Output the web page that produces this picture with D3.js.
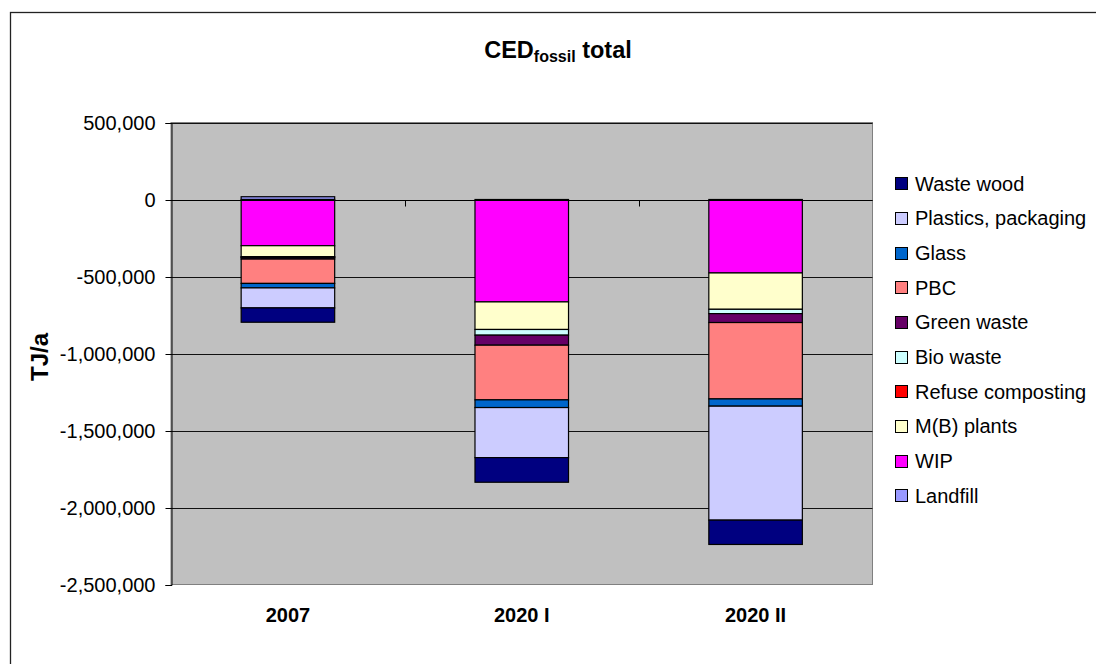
<!DOCTYPE html>
<html>
<head>
<meta charset="utf-8">
<script src="https://cdn.jsdelivr.net/npm/d3@7"></script>
<style>
html,body{margin:0;padding:0;background:#fff;}
svg{display:block;font-family:"Liberation Sans",Arial,sans-serif;}
</style>
</head>
<body>
<svg id="chart" width="1096" height="664"></svg>
<script>
const categories = ["2007", "2020 I", "2020 II"];
// series in stacking order (Excel series order)
const seriesNames = ["Landfill", "WIP", "M(B) plants", "Refuse composting", "Bio waste", "Green waste", "PBC", "Glass", "Plastics, packaging", "Waste wood"];
const seriesColors = ["#9999FF", "#FF00FF", "#FFFFCC", "#FF0000", "#CCFFFF", "#660066", "#FF8080", "#0066CC", "#CCCCFF", "#000080"];
const landfill     = [18000, 0, 0];
const wip          = [-300000, -665000, -477000];
const mbPlants     = [-71000, -179000, -236000];
const refuseComp   = [-3000, 0, 0];
const bioWaste     = [-4000, -37000, -28000];
const greenWaste   = [-9000, -65000, -58000];
const pbc          = [-158000, -355000, -496000];
const glass        = [-29000, -50000, -47000];
const plastics     = [-130000, -325000, -740000];
const wasteWood    = [-93000, -160000, -158000];
const yTicks = [500000, 0, -500000, -1000000, -1500000, -2000000, -2500000];

const seriesValues = [landfill, wip, mbPlants, refuseComp, bioWaste, greenWaste, pbc, glass, plastics, wasteWood];

(function () {
const svg = d3.select("#chart");

// outer chart border
svg.append("rect").attr("x", 10.5).attr("y", 12.5).attr("width", 1100).attr("height", 700)
  .attr("fill", "#fff").attr("stroke", "#222").attr("stroke-width", 1.3);

const pLeft = 171, pRight = 872.5, pTop = 122.5, pBottom = 584.5;

const x = d3.scaleBand().domain(categories).range([pLeft, pRight]).padding(0);
const y = d3.scaleLinear().domain([-2500000, 500000]).range([pBottom, pTop]);

// plot area
svg.append("rect").attr("x", pLeft).attr("y", pTop).attr("width", pRight - pLeft).attr("height", pBottom - pTop)
  .attr("fill", "#C0C0C0").attr("stroke", "#808080").attr("stroke-width", 1);

// gridlines
svg.append("g").selectAll("line").data(yTicks.filter(d => d !== -2500000)).join("line")
  .attr("x1", pLeft).attr("x2", pRight)
  .attr("y1", d => Math.round(y(d)) + 0.5).attr("y2", d => Math.round(y(d)) + 0.5)
  .attr("stroke", "#111").attr("stroke-width", 1);

// y axis
const fmt = d3.format(",");
const yAxis = d3.axisLeft(y).tickValues(yTicks).tickSize(6).tickPadding(10).tickFormat(d => fmt(d).replace("−", "-"));
const yg = svg.append("g").attr("transform", `translate(${pLeft + 0.5},0.5)`).call(yAxis);
yg.select(".domain").attr("stroke", "#000");
yg.selectAll(".tick line").attr("stroke", "#000");
yg.selectAll("text").attr("font-size", 20).attr("fill", "#000").attr("font-family", "Liberation Sans, Arial, sans-serif");

// stacked bars
const data = categories.map((c, i) => {
  const o = { cat: c };
  seriesNames.forEach((s, j) => { o[s] = seriesValues[j][i]; });
  return o;
});
const stack = d3.stack().keys(seriesNames).offset(d3.stackOffsetDiverging);
const stacked = stack(data);
const bw = x.bandwidth() * 0.4;
const color = d3.scaleOrdinal().domain(seriesNames).range(seriesColors);

const barsG = svg.append("g");
stacked.forEach(layer => {
  barsG.append("g").attr("fill", color(layer.key)).selectAll("rect")
    .data(layer.filter(d => Math.abs(d[1] - d[0]) > 0)).join("rect")
    .attr("x", d => x(d.data.cat) + x.bandwidth() * 0.3)
    .attr("width", bw)
    .attr("y", d => y(Math.max(d[0], d[1])))
    .attr("height", d => Math.abs(y(d[0]) - y(d[1])))
    .attr("stroke", "#000").attr("stroke-width", 1.2);
});

// x axis at zero with ticks between categories
const y0 = Math.round(y(0)) + 0.5;
svg.append("line").attr("x1", pLeft).attr("x2", pRight).attr("y1", y0).attr("y2", y0).attr("stroke", "#000");
const boundaries = categories.slice(1).map(c => x(c));
svg.append("g").selectAll("line").data(boundaries).join("line")
  .attr("x1", d => Math.round(d) + 0.5).attr("x2", d => Math.round(d) + 0.5)
  .attr("y1", y0).attr("y2", y0 + 6).attr("stroke", "#000");

// category labels at bottom
svg.append("g").selectAll("text").data(categories).join("text")
  .attr("x", d => x(d) + x.bandwidth() / 2)
  .attr("y", 621.5)
  .attr("text-anchor", "middle")
  .attr("font-size", 20).attr("font-weight", "bold").attr("fill", "#000")
  .text(d => d);

// y axis title
svg.append("text")
  .attr("transform", `translate(48,357) rotate(-90)`)
  .attr("text-anchor", "middle")
  .attr("font-size", 24).attr("font-weight", "bold").attr("fill", "#000")
  .text("TJ/a");

// title
const title = svg.append("text").attr("x", 558).attr("y", 57.7).attr("text-anchor", "middle")
  .attr("font-size", 23.5).attr("font-weight", "bold").attr("fill", "#000");
title.append("tspan").text("CED");
title.append("tspan").attr("font-size", 16).attr("dy", 4.6).text("fossil");
title.append("tspan").attr("dy", -4.6).text(" total");

// legend (reverse order)
const legendItems = seriesNames.slice().reverse();
const lg = svg.append("g");
legendItems.forEach((name, i) => {
  const cy = 183.3 + i * 34.65;
  lg.append("rect").attr("x", 895.5).attr("y", Math.round(cy - 6) + 0.5).attr("width", 12).attr("height", 12)
    .attr("fill", color(name)).attr("stroke", "#000").attr("stroke-width", 1);
  lg.append("text").attr("x", 915).attr("y", cy + 7.4)
    .attr("font-size", 20).attr("fill", "#000").text(name);
});
})();
</script>
</body>
</html>
